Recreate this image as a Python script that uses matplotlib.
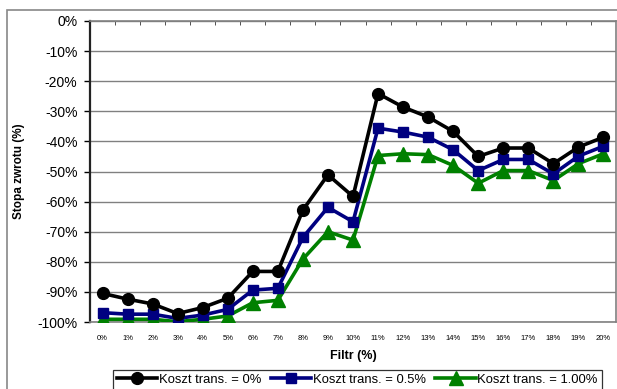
import matplotlib
matplotlib.use("Agg")
import matplotlib.pyplot as plt
from matplotlib.patches import Rectangle
from matplotlib.ticker import FixedLocator, PercentFormatter

plt.rcParams['font.family'] = ['Liberation Sans', 'DejaVu Sans']
plt.rcParams['axes.unicode_minus'] = False

filters = ["0%", "1%", "2%", "3%", "4%", "5%", "6%", "7%", "8%", "9%", "10%",
           "11%", "12%", "13%", "14%", "15%", "16%", "17%", "18%", "19%", "20%"]

cost_0 = [-90.5, -92.4, -94.0, -97.2, -95.2, -92.1, -83.2, -83.2, -62.8, -51.1, -58.3,
          -24.1, -28.6, -31.9, -36.7, -45.0, -42.2, -42.2, -47.4, -41.9, -38.6]
cost_05 = [-96.9, -97.4, -97.4, -98.8, -97.7, -95.8, -89.4, -88.8, -71.9, -61.9, -66.7,
           -35.6, -36.9, -38.6, -42.8, -49.7, -46.0, -46.0, -50.8, -44.9, -41.6]
cost_1 = [-99.1, -99.1, -99.1, -99.9, -99.1, -98.0, -93.6, -92.8, -79.1, -70.0, -72.8,
          -44.7, -44.1, -44.4, -48.0, -53.9, -49.7, -49.7, -53.0, -47.4, -44.1]

series_labels = ["Koszt trans. = 0%", "Koszt trans. = 0.5%", "Koszt trans. = 1.00%"]

W, H = 617, 389
fig = plt.figure(figsize=(W / 100, H / 100), dpi=100)

# outer chart frame
fig.patches.append(Rectangle((7 / W, -0.05), 1.2, 1 - 10 / H + 0.05,
                             transform=fig.transFigure, fill=False,
                             edgecolor="#888888", linewidth=1.2))

ax = fig.add_axes([90 / W, (H - 322) / H, 526 / W, 301 / H])
x = list(range(len(filters)))

ax.plot(x, cost_0, color="black", lw=2.6, marker="o", ms=8.5, label=series_labels[0], zorder=5)
ax.plot(x, cost_05, color="#000080", lw=2.6, marker="s", ms=7.5, label=series_labels[1], zorder=4)
ax.plot(x, cost_1, color="#008000", lw=2.6, marker="^", ms=9.5, label=series_labels[2], zorder=3)

ax.set_xlim(-0.5, len(filters) - 0.5)
ax.set_ylim(-100, 0)
ax.set_yticks(range(-100, 1, 10))
ax.yaxis.set_major_formatter(PercentFormatter(decimals=0))
ax.grid(axis="y", color="#808080", lw=1.0)
ax.set_axisbelow(True)

ax.set_xticks(x)
ax.set_xticklabels(filters, fontsize=5.5)
ax.tick_params(axis="x", length=0, pad=9)
ax.tick_params(axis="y", length=4, direction="out", labelsize=10, pad=5, width=1)

# category axis crosses at 0%: boundary ticks along the top line
ax.xaxis.set_minor_locator(FixedLocator([i + 0.5 for i in range(len(filters) - 1)]))
ax.tick_params(axis="x", which="minor", top=True, bottom=False, direction="in",
               length=3, color="#333333")

for side in ("top", "right", "bottom"):
    ax.spines[side].set_color("#808080")
    ax.spines[side].set_linewidth(1.2)
ax.spines["left"].set_color("#222222")
ax.spines["left"].set_linewidth(1.6)

ax.set_xlabel("Filtr (%)", fontsize=9, fontweight="bold", labelpad=6)
ax.set_ylabel("Stopa zwrotu (%)", fontsize=8.5, fontweight="bold", labelpad=9)

leg = fig.legend(loc="upper left", bbox_to_anchor=(113 / W, 1 - 370 / H),
                 ncol=3, fontsize=9.4, frameon=True, fancybox=False,
                 edgecolor="black", handlelength=3.1, handletextpad=0.1,
                 columnspacing=0.75, borderpad=0.3, borderaxespad=0)
leg.get_frame().set_linewidth(0.9)

fig.savefig("out.png", dpi=100)
